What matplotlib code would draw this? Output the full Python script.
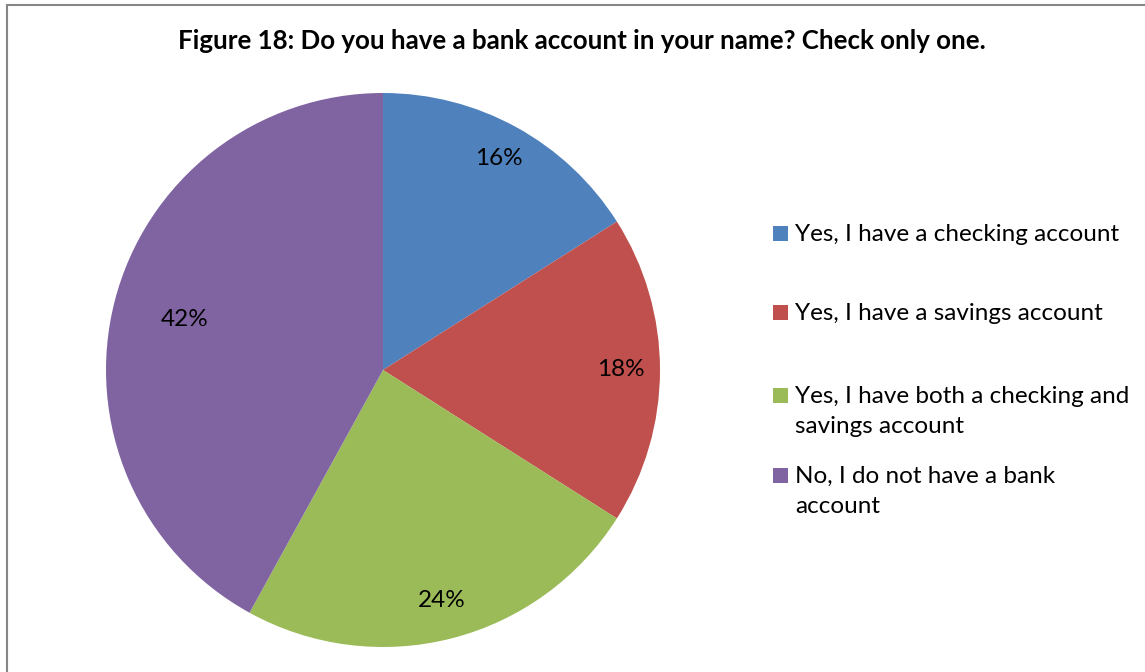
import matplotlib
matplotlib.use("Agg")
import matplotlib.pyplot as plt
from matplotlib.patches import Rectangle
import numpy as np

categories = [
    "Yes, I have a checking account",
    "Yes, I have a savings account",
    "Yes, I have both a checking and\nsavings account",
    "No, I do not have a bank\naccount",
]
values = [16, 18, 24, 42]
pct_labels = ["16%", "18%", "24%", "42%"]
colors = ["#4F81BD", "#C0504D", "#9BBB59", "#8064A2"]
label_dist = [0.87, 0.86, 0.86, 0.74]
title = "Figure 18: Do you have a bank account in your name? Check only one."

plt.rcParams['font.family'] = ['Lato', 'DejaVu Sans']

W, H = 1145, 672
fig = plt.figure(figsize=(W / 100, H / 100), dpi=100)
fig.patch.set_facecolor("white")

def fx(px):
    return px / W

def fy(py):
    return 1 - py / H

# outer border
fig.add_artist(Rectangle((fx(7), -0.01), 1.05, fy(5) + 0.01, transform=fig.transFigure,
                         fill=False, edgecolor="#868686", linewidth=1.5))

cx, cy, r = 383, 370, 277
ax = fig.add_axes([fx(cx - r), (H - cy - r) / H, 2 * r / W, 2 * r / H])

wedges, _ = ax.pie(values, colors=colors, startangle=90, counterclock=False,
                   radius=1, wedgeprops=dict(linewidth=0))
ax.set_xlim(-1, 1)
ax.set_ylim(-1, 1)
ax.axis("off")
for w, lab, d in zip(wedges, pct_labels, label_dist):
    ang = np.deg2rad((w.theta1 + w.theta2) / 2)
    ax.text(d * np.cos(ang), d * np.sin(ang), lab, ha="center", va="center",
            fontsize=17.5, color="black")

fig.text(fx(582), fy(49), title, ha="center", va="baseline",
         fontsize=18.6, fontweight="bold")

# legend (drawn manually: Excel-style spacing, square aligned with first line)
entry_baselines = [241, 320, 403, 483]
line_step = 30
for c, lab, yb in zip(colors, categories, entry_baselines):
    fig.add_artist(Rectangle((fx(773), fy(yb)), 15 / W, 15 / H,
                             transform=fig.transFigure, facecolor=c,
                             edgecolor="none"))
    for i, line in enumerate(lab.split("\n")):
        fig.text(fx(795), fy(yb + i * line_step), line, ha="left",
                 va="baseline", fontsize=17.5)

fig.savefig("out.png", dpi=100)
